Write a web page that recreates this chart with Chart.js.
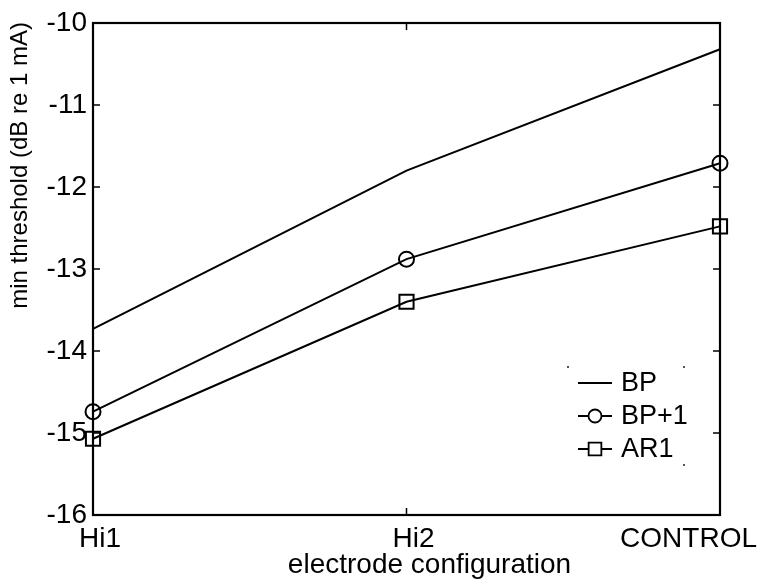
<!DOCTYPE html>
<html>
<head>
<meta charset="utf-8">
<script src="https://cdn.jsdelivr.net/npm/chart.js@4.4.1/dist/chart.umd.min.js"></script>
<style>
  html, body { margin: 0; padding: 0; background: #fff; }
  #wrap { width: 764px; height: 583px; }
</style>
</head>
<body>
<div id="wrap"><canvas id="chart" width="764" height="583"></canvas></div>
<script>
// data
const configs = ['Hi1', 'Hi2', 'CONTROL'];
const bpValues = [-13.73, -11.80, -10.32];
const bp1Values = [-14.74, -12.88, -11.71];
const ar1Values = [-15.07, -13.40, -12.48];
const yTicks = [-16, -15, -14, -13, -12, -11, -10];

const FONT = '"Liberation Sans", Arial, sans-serif';

// box, inward ticks, labels and legend drawn like the matlab figure
const framePlugin = {
    id: 'frame',
    afterDraw(chart) {
        const ctx = chart.ctx;
        const area = chart.chartArea;
        const xs = chart.scales.x;
        const ys = chart.scales.y;
        const tickLen = 7;

        ctx.save();
        ctx.strokeStyle = '#000';
        ctx.lineWidth = 2.2;
        ctx.strokeRect(area.left, area.top, area.right - area.left, area.bottom - area.top);

        ctx.lineWidth = 1.5;
        ctx.beginPath();
        yTicks.forEach((v) => {
            const py = ys.getPixelForValue(v);
            ctx.moveTo(area.left, py); ctx.lineTo(area.left + tickLen, py);
            ctx.moveTo(area.right, py); ctx.lineTo(area.right - tickLen, py);
        });
        configs.forEach((c, i) => {
            const px = xs.getPixelForValue(i);
            ctx.moveTo(px, area.bottom); ctx.lineTo(px, area.bottom - tickLen);
            ctx.moveTo(px, area.top); ctx.lineTo(px, area.top + tickLen);
        });
        ctx.stroke();

        // x category labels
        ctx.fillStyle = '#000';
        ctx.font = '28px ' + FONT;
        ctx.textAlign = 'center';
        ctx.textBaseline = 'alphabetic';
        configs.forEach((c, i) => {
            const w = ctx.measureText(c).width;
            let px = xs.getPixelForValue(i) + 7;
            if (px + w / 2 > chart.width - 7) px = chart.width - 7 - w / 2;
            ctx.fillText(c, px, 547);
        });

        // axis titles
        ctx.fillText('electrode configuration', (area.left + area.right) / 2 + 23, 573);

        ctx.save();
        ctx.font = '24px ' + FONT;
        ctx.translate(20, area.top - 1);
        ctx.rotate(-Math.PI / 2);
        ctx.textAlign = 'right';
        ctx.textBaseline = 'middle';
        ctx.fillText('min threshold (dB re 1 mA)', 0, 0);
        ctx.restore();

        // legend
        const lx = 568, ly = 367, lw = 116, lh = 98;
        ctx.fillStyle = '#555';
        [[lx, ly], [lx + lw, ly], [lx + lw, ly + lh]].forEach(([dx, dy]) => {
            ctx.fillRect(dx - 1, dy - 1, 2, 2);
        });

        const rows = [383, 416, 449];
        chart.data.datasets.forEach((ds, i) => {
            const y = rows[i];
            ctx.strokeStyle = '#000';
            ctx.lineWidth = 2;
            ctx.beginPath();
            ctx.moveTo(578, y); ctx.lineTo(612, y);
            ctx.stroke();
            if (ds.pointStyle) {
                ctx.fillStyle = '#fff';
                ctx.lineWidth = 1.8;
                Chart.helpers.drawPoint(ctx, {
                    pointStyle: ds.pointStyle,
                    radius: ds.pointStyle === 'circle' ? 6.5 : 9,
                    borderWidth: 1.8,
                    rotation: 0
                }, 595, y);
            }
            ctx.fillStyle = '#000';
            ctx.font = '27px ' + FONT;
            ctx.textAlign = 'left';
            ctx.textBaseline = 'middle';
            ctx.fillText(ds.label, 621, y + 1);
        });
        ctx.restore();
    }
};

const ctx = document.getElementById('chart').getContext('2d');

new Chart(ctx, {
    type: 'line',
    data: {
        labels: configs,
        datasets: [
            {
                label: 'BP',
                data: bpValues,
                borderColor: '#000',
                borderWidth: 2,
                pointRadius: 0,
                pointStyle: false,
                tension: 0
            },
            {
                label: 'BP+1',
                data: bp1Values,
                borderColor: '#000',
                backgroundColor: 'rgba(0,0,0,0)',
                borderWidth: 2,
                pointStyle: 'circle',
                pointRadius: 7.5,
                pointBorderWidth: 2,
                pointBackgroundColor: 'rgba(0,0,0,0)',
                tension: 0
            },
            {
                label: 'AR1',
                data: ar1Values,
                borderColor: '#000',
                backgroundColor: 'rgba(0,0,0,0)',
                borderWidth: 2,
                pointStyle: 'rect',
                pointRadius: 10,
                pointBorderWidth: 2,
                pointBackgroundColor: 'rgba(0,0,0,0)',
                tension: 0
            }
        ]
    },
    options: {
        responsive: false,
        animation: false,
        clip: false,
        layout: { padding: { top: 23, right: 44, left: 0, bottom: 0 } },
        plugins: {
            legend: { display: false },
            tooltip: { enabled: false }
        },
        scales: {
            x: {
                type: 'category',
                offset: false,
                grid: { display: false },
                border: { display: false },
                ticks: { display: false },
                afterFit: (s) => { s.height = 68; }
            },
            y: {
                min: -16,
                max: -10,
                afterBuildTicks: (s) => { s.ticks = yTicks.map((v) => ({ value: v })); },
                grid: { display: false, drawTicks: false },
                border: { display: false },
                ticks: {
                    color: '#000',
                    padding: 6,
                    font: { family: FONT, size: 28 },
                    callback: (v) => String(v)
                },
                afterFit: (s) => { s.width = 93; }
            }
        }
    },
    plugins: [framePlugin]
});
</script>
</body>
</html>
